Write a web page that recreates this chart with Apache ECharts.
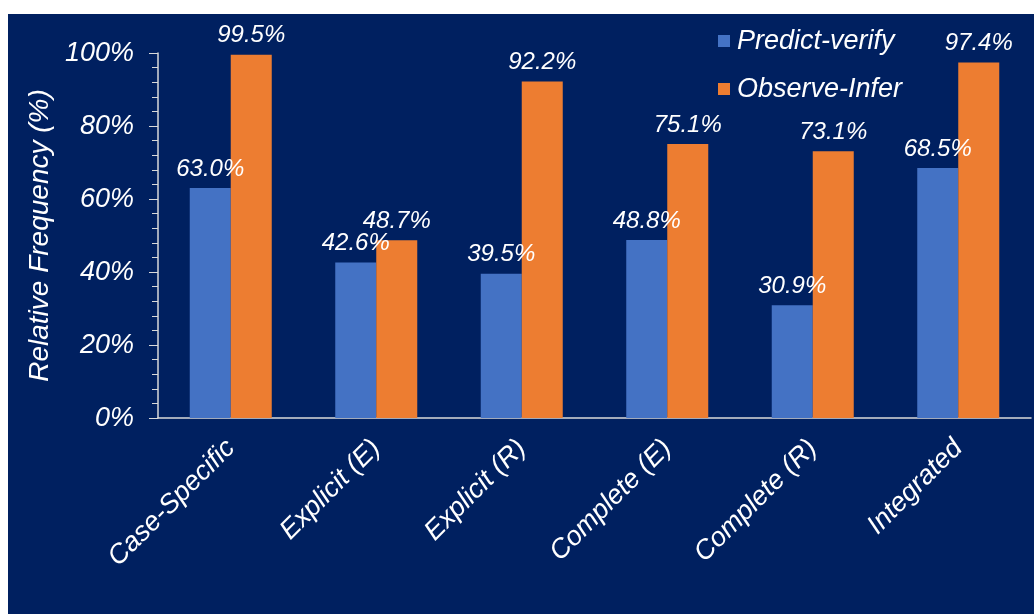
<!DOCTYPE html>
<html lang="en">

<head>
    <meta charset="UTF-8">
    <title>Relative Frequency</title>
    <style>
        html,
        body {
            margin: 0px;
            padding: 0px;
            width: 100%;
            height: 100%;
            background: #ffffff;
        }

        #echarts {
            position: absolute;
            left: 8px;
            top: 14px;
            width: 1026px;
            height: 600px;
            background: #002060;
        }
    </style>
</head>

<body>
    <div id="echarts"></div>
    <script src="https://cdn.jsdelivr.net/npm/echarts@6/dist/echarts.min.js"></script>
    <script>
        // data
        var categories = ['Case-Specific', 'Explicit (E)', 'Explicit (R)', 'Complete (E)', 'Complete (R)', 'Integrated'];
        var predictVerify = [63.0, 42.6, 39.5, 48.8, 30.9, 68.5];
        var observeInfer = [99.5, 48.7, 92.2, 75.1, 73.1, 97.4];
        var seriesNames = ['Predict-verify', 'Observe-Infer'];

        var font = 'Liberation Sans, Arial, sans-serif';

        var myChart = echarts.init(document.getElementById('echarts'));

        function barSeries(name, data, color) {
            return {
                name: name,
                type: 'bar',
                data: data,
                barWidth: 41,
                barGap: '0%',
                itemStyle: { color: color },
                label: {
                    show: true,
                    position: 'top',
                    distance: 7,
                    formatter: function (p) {
                        return p.value.toFixed(1) + '%';
                    },
                    color: '#ffffff',
                    fontStyle: 'italic',
                    fontFamily: font,
                    fontSize: 24
                }
            };
        }

        myChart.setOption({
            animation: false,
            textStyle: { fontFamily: font },
            legend: {
                orient: 'vertical',
                left: 705,
                top: 7,
                itemWidth: 12,
                itemHeight: 12,
                itemGap: 18,
                icon: 'rect',
                textStyle: {
                    color: '#ffffff',
                    fontStyle: 'italic',
                    fontFamily: font,
                    fontSize: 27,
                    lineHeight: 30,
                    padding: [0, 0, 0, 2]
                },
                data: seriesNames
            },
            grid: {
                left: 150,
                right: 3,
                top: 39,
                bottom: 196
            },
            xAxis: {
                type: 'category',
                data: categories,
                axisLine: { lineStyle: { color: '#d9d9d9', width: 1.5 } },
                axisTick: { alignWithLabel: true, length: 6, lineStyle: { color: '#d9d9d9' } },
                axisLabel: {
                    rotate: 45,
                    margin: 26,
                    interval: 0,
                    color: '#ffffff',
                    fontStyle: 'italic',
                    fontFamily: font,
                    fontSize: 27
                }
            },
            yAxis: {
                type: 'value',
                min: 0,
                max: 100,
                interval: 20,
                name: 'Relative Frequency (%)',
                nameLocation: 'middle',
                nameGap: 102,
                nameTextStyle: {
                    color: '#ffffff',
                    fontStyle: 'italic',
                    fontFamily: font,
                    fontSize: 28
                },
                axisLine: { show: true, lineStyle: { color: '#d9d9d9', width: 1.5 } },
                axisTick: { show: true, length: 9, lineStyle: { color: '#d9d9d9' } },
                minorTick: { show: true, splitNumber: 5, length: 6, lineStyle: { color: '#d9d9d9' } },
                splitLine: { show: false },
                axisLabel: {
                    formatter: '{value}%',
                    margin: 24,
                    color: '#ffffff',
                    fontStyle: 'italic',
                    fontFamily: font,
                    fontSize: 27
                }
            },
            series: [
                barSeries(seriesNames[0], predictVerify, '#4472c4'),
                barSeries(seriesNames[1], observeInfer, '#ed7d31')
            ]
        });

        window.addEventListener("resize", function () {
            myChart.resize();
        });
    </script>
</body>

</html>
